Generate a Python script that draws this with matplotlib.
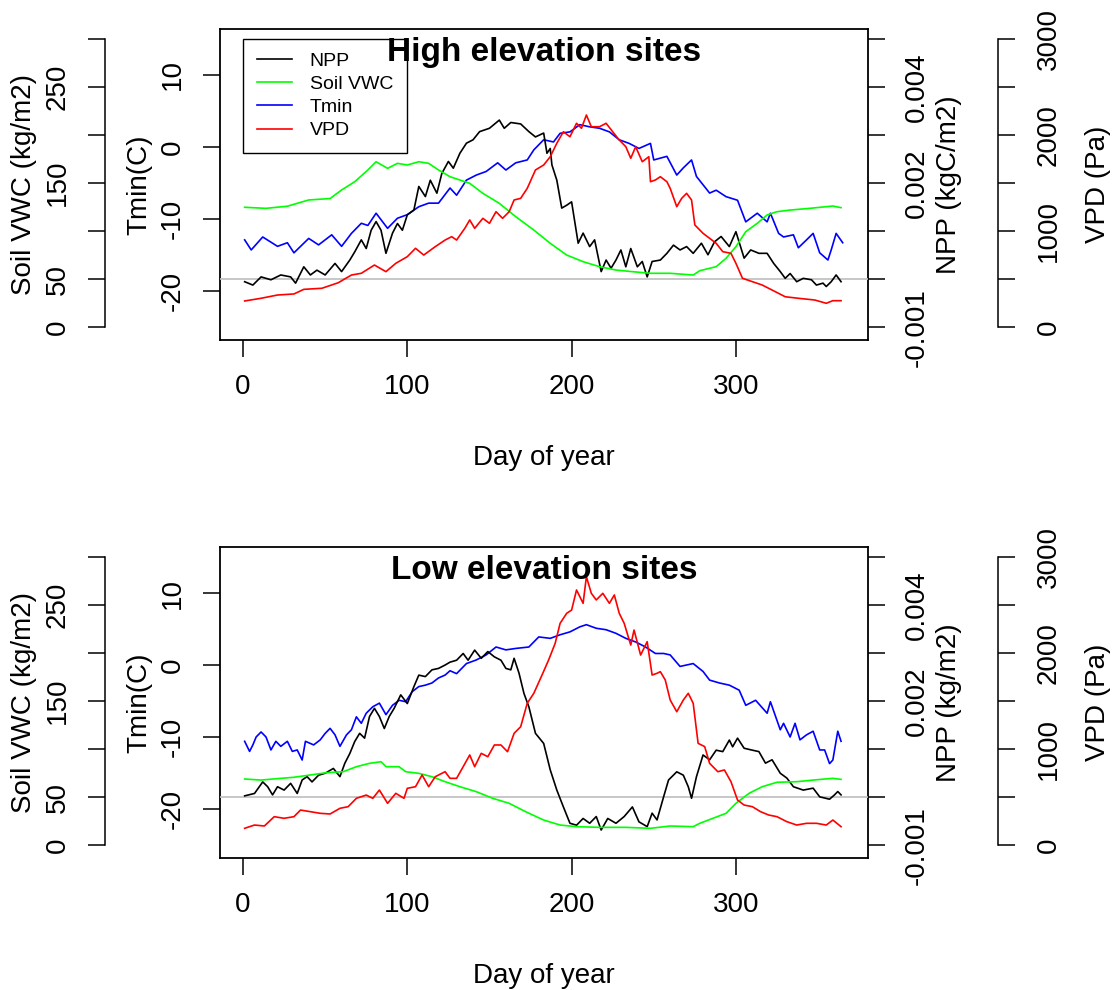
import matplotlib
matplotlib.use("Agg")
import matplotlib.pyplot as plt
from matplotlib.lines import Line2D

plt.rcParams["font.family"] = ["Liberation Sans", "DejaVu Sans"]

# ---- high elevation sites ----
hi_tmin_day = [1, 5, 12, 21, 27, 31, 40, 46, 54, 60, 66, 72, 76, 81, 88, 94, 100, 107, 113, 119,
               126, 130, 136, 142, 148, 155, 160, 166, 173, 177, 183, 189, 193, 199, 205, 211, 217,
               223, 229, 235, 241, 248, 250, 258, 264, 268, 273, 276, 284, 288, 294, 301, 306, 313,
               319, 321, 326, 329, 335, 338, 343, 347, 351, 356, 358, 361, 365]
hi_tmin = [-12.9, -14.3, -12.5, -13.8, -13.3, -14.7, -12.7, -13.6, -12.2, -13.8, -12.0, -10.6, -10.9,
           -9.2, -11.3, -9.9, -9.4, -8.3, -7.8, -7.8, -5.7, -6.7, -4.6, -3.9, -3.4, -2.2, -3.2, -2.2,
           -1.8, -0.4, 1.0, 0.7, 1.9, 2.1, 3.1, 2.8, 2.6, 2.1, 1.0, 0.5, -0.2, 0.5, -1.8, -1.3, -3.9,
           -2.9, -1.8, -4.1, -6.4, -6.0, -6.9, -7.4, -10.4, -9.2, -10.4, -9.2, -12.0, -12.5, -12.2,
           -14.0, -12.9, -12.0, -14.7, -15.7, -14.3, -12.0, -13.3]

hi_npp_day = [1, 6, 11, 17, 23, 29, 32, 37, 41, 45, 50, 56, 60, 65, 68, 72, 75, 78, 81, 84, 87, 91,
              94, 97, 100, 104, 107, 111, 114, 118, 121, 125, 128, 132, 136, 140, 144, 150, 156, 159,
              163, 169, 174, 178, 183, 185, 187, 188, 191, 194, 197, 200, 204, 207, 211, 214, 218,
              221, 224, 227, 230, 233, 236, 240, 243, 246, 249, 254, 258, 262, 266, 270, 274, 279,
              283, 287, 291, 296, 300, 305, 309, 314, 319, 323, 327, 330, 333, 337, 341, 346, 349,
              353, 355, 358, 361, 364]
hi_npp = [-0.00005, -0.00012, 0.00005, -0.00001, 0.00009, 0.00005, -0.00008, 0.00026, 0.00009,
          0.00019, 0.00009, 0.00033, 0.00016, 0.00040, 0.00057, 0.00082, 0.00064, 0.00102, 0.00120,
          0.00102, 0.00054, 0.00096, 0.00116, 0.00102, 0.00134, 0.00144, 0.00193, 0.00172, 0.00206,
          0.00179, 0.00220, 0.00245, 0.00231, 0.00262, 0.00283, 0.00290, 0.00307, 0.00314, 0.00331,
          0.00314, 0.00326, 0.00323, 0.00307, 0.00296, 0.00304, 0.00262, 0.00272, 0.00238, 0.00206,
          0.00148, 0.00154, 0.00161, 0.00075, 0.00096, 0.00068, 0.00082, 0.00016, 0.00040, 0.00023,
          0.00040, 0.00061, 0.00026, 0.00064, 0.00026, 0.00037, 0.00005, 0.00037, 0.00040, 0.00054,
          0.00071, 0.00061, 0.00068, 0.00054, 0.00075, 0.00051, 0.00078, 0.00089, 0.00068, 0.00099,
          0.00044, 0.00061, 0.00054, 0.00054, 0.00033, 0.00016, 0.00002, 0.00012, -0.00005, 0.00002,
          -0.00001, -0.00012, -0.00008, -0.00015, -0.00005, 0.00009, -0.00005]

hi_vwc_day = [1, 14, 27, 40, 53, 60, 68, 76, 81, 88, 94, 100, 107, 113, 119, 126, 138, 146, 156, 166,
              177, 187, 197, 207, 217, 227, 237, 248, 260, 274, 278, 288, 294, 300, 306, 313, 319,
              325, 333, 345, 359, 364]
hi_vwc = [124.9, 123.8, 126.0, 132.5, 134.0, 142.9, 151.5, 163.7, 172.3, 165.4, 170.6, 168.9, 172.3,
          170.6, 163.7, 156.7, 149.8, 139.4, 129.0, 115.1, 101.2, 87.4, 75.2, 68.3, 63.1, 59.6, 57.9,
          56.2, 56.2, 54.4, 58.9, 63.1, 71.8, 83.9, 99.5, 108.2, 116.9, 120.3, 122.0, 123.8, 126.2,
          124.5]

hi_vpd_day = [1, 11, 21, 31, 37, 48, 58, 66, 72, 80, 87, 93, 100, 105, 110, 117, 123, 127, 130, 135,
              138, 141, 146, 150, 154, 158, 162, 165, 169, 173, 178, 183, 187, 191, 195, 199, 203,
              206, 209, 212, 217, 221, 225, 229, 233, 236, 239, 243, 247, 248, 251, 254, 258, 260,
              264, 267, 270, 273, 275, 280, 284, 288, 292, 297, 300, 304, 310, 316, 322, 330, 338,
              348, 355, 359, 364]
hi_vpd = [274, 302, 336, 347, 395, 406, 464, 544, 562, 648, 579, 666, 735, 822, 752, 839, 908, 943,
          908, 1030, 1117, 1030, 1134, 1082, 1203, 1134, 1203, 1325, 1342, 1446, 1637, 1689, 1775,
          1915, 2035, 1983, 2123, 2071, 2209, 2087, 2087, 2123, 2035, 1949, 1879, 1759, 1879, 1723,
          1775, 1515, 1533, 1567, 1515, 1446, 1255, 1342, 1394, 1325, 1065, 978, 926, 874, 787, 770,
          666, 510, 475, 440, 388, 318, 302, 284, 250, 277, 277]

# ---- low elevation sites ----
lo_tmin_day = [1, 4, 6, 8, 11, 14, 17, 20, 23, 27, 30, 33, 36, 38, 43, 47, 50, 53, 56, 59, 63, 66, 69,
               72, 75, 79, 83, 87, 91, 95, 99, 103, 107, 111, 115, 119, 123, 126, 130, 136, 142, 148,
               154, 160, 166, 174, 180, 187, 193, 199, 205, 209, 215, 221, 227, 233, 239, 245, 251,
               256, 260, 266, 274, 280, 284, 290, 296, 302, 306, 312, 319, 321, 327, 329, 333, 336,
               339, 343, 347, 351, 354, 357, 359, 362, 364]
lo_tmin = [-10.6, -12.0, -11.1, -10.0, -9.3, -10.0, -11.8, -10.6, -11.3, -10.6, -12.0, -11.8, -13.2,
           -10.6, -11.1, -10.4, -9.5, -8.8, -9.7, -11.3, -9.7, -9.0, -7.2, -8.1, -6.7, -5.8, -5.3,
           -6.9, -5.6, -4.9, -5.1, -3.7, -3.0, -2.8, -2.5, -1.8, -1.4, -0.8, -1.2, 0.2, 0.7, 1.4, 2.5,
           2.1, 2.3, 2.5, 3.9, 3.7, 4.2, 4.6, 5.3, 5.6, 5.1, 4.9, 4.4, 3.7, 3.2, 2.5, 1.6, 1.6, 1.4,
           -0.2, 0.2, -0.9, -2.1, -2.5, -2.8, -3.5, -5.6, -4.9, -6.7, -5.1, -9.0, -8.1, -10.0, -8.1,
           -10.4, -9.7, -9.2, -11.8, -11.8, -13.7, -13.2, -9.2, -10.6]

lo_npp_day = [1, 7, 12, 15, 18, 21, 25, 29, 33, 36, 39, 42, 46, 50, 55, 59, 62, 65, 68, 71, 74, 77, 80,
              83, 86, 89, 92, 96, 100, 104, 107, 111, 115, 119, 123, 126, 130, 134, 137, 141, 145,
              149, 153, 157, 160, 163, 165, 168, 171, 174, 178, 183, 187, 191, 195, 199, 203, 207,
              211, 215, 218, 222, 227, 232, 237, 241, 246, 249, 252, 256, 259, 264, 268, 271, 273,
              276, 280, 284, 288, 292, 296, 298, 301, 305, 310, 314, 318, 322, 327, 331, 335, 341,
              347, 351, 357, 360, 362, 364]
lo_npp = [0.00003, 0.00008, 0.00032, 0.00022, 0.00005, 0.00022, 0.00015, 0.00029, 0.00008, 0.00036,
          0.00043, 0.00032, 0.00046, 0.00050, 0.00060, 0.00043, 0.00071, 0.00091, 0.00116, 0.00133,
          0.00123, 0.00168, 0.00185, 0.00168, 0.00143, 0.00168, 0.00185, 0.00213, 0.00195, 0.00230,
          0.00254, 0.00251, 0.00265, 0.00268, 0.00275, 0.00281, 0.00285, 0.00299, 0.00285, 0.00306,
          0.00289, 0.00303, 0.00292, 0.00285, 0.00268, 0.00265, 0.00289, 0.00258, 0.00216, 0.00188,
          0.00133, 0.00112, 0.00057, 0.00015, -0.00020, -0.00054, -0.00058, -0.00044, -0.00054,
          -0.00040, -0.00068, -0.00044, -0.00054, -0.00040, -0.00020, -0.00051, -0.00061, -0.00033,
          -0.00047, 0.00001, 0.00036, 0.00053, 0.00046, 0.00022, -0.00002, 0.00043, 0.00088, 0.00078,
          0.00098, 0.00095, 0.00119, 0.00105, 0.00123, 0.00102, 0.00098, 0.00095, 0.00071, 0.00078,
          0.00050, 0.00040, 0.00022, 0.00015, 0.00019, 0.00001, -0.00004, 0.00005, 0.00012, 0.00005]

lo_vwc_day = [1, 11, 21, 31, 41, 51, 61, 69, 77, 84, 87, 95, 99, 107, 115, 123, 132, 142, 152, 162,
              172, 183, 193, 203, 217, 233, 248, 260, 274, 278, 286, 294, 300, 308, 316, 325, 337,
              347, 359, 364]
lo_vwc = [69.0, 67.9, 69.4, 70.8, 73.2, 75.6, 76.6, 81.8, 85.3, 87.0, 81.8, 81.8, 76.6, 74.9, 71.4,
          66.2, 61.0, 55.8, 48.9, 43.7, 35.0, 26.3, 21.1, 19.4, 18.7, 18.7, 17.7, 20.1, 19.4, 22.9,
          28.1, 33.3, 43.7, 54.1, 61.0, 65.6, 66.2, 67.9, 69.7, 68.6]

lo_vpd_day = [1, 7, 13, 19, 25, 31, 35, 41, 47, 53, 59, 64, 69, 75, 79, 83, 88, 93, 98, 100, 105, 109,
              113, 117, 123, 126, 130, 134, 138, 141, 145, 149, 153, 157, 161, 165, 169, 173, 177,
              182, 186, 190, 193, 197, 200, 203, 207, 209, 212, 215, 219, 223, 226, 229, 232, 236,
              238, 242, 246, 249, 252, 254, 257, 260, 264, 268, 271, 274, 277, 281, 284, 289, 293,
              297, 301, 305, 310, 315, 320, 325, 331, 337, 343, 349, 355, 359, 364]
lo_vpd = [177, 211, 201, 298, 281, 298, 367, 350, 333, 326, 385, 402, 489, 523, 489, 575, 437, 541,
          489, 593, 610, 732, 610, 714, 766, 697, 697, 818, 940, 818, 957, 922, 1044, 1044, 974, 1165,
          1234, 1478, 1582, 1772, 1928, 2102, 2310, 2414, 2448, 2657, 2518, 2795, 2622, 2553, 2622,
          2518, 2605, 2414, 2310, 2084, 2240, 1980, 2119, 1772, 1790, 1807, 1720, 1512, 1390, 1512,
          1582, 1478, 1061, 1027, 853, 766, 784, 662, 471, 419, 402, 350, 315, 298, 246, 211, 229,
          229, 211, 263, 194]

# ---- axes furniture ----
day_ticks = [0, 100, 200, 300]
tmin_ticks = [-20, -10, 0, 10]
npp_ticks = [-0.001, 0.0, 0.001, 0.002, 0.003, 0.004, 0.005]
npp_ticklabels = ["-0.001", "", "", "0.002", "", "0.004", ""]
vwc_ticks = [0, 50, 100, 150, 200, 250, 300]
vwc_ticklabels = ["0", "50", "", "150", "", "250", ""]
vpd_ticks = [0, 500, 1000, 1500, 2000, 2500, 3000]
vpd_ticklabels = ["0", "", "1000", "", "2000", "", "3000"]
series_names = ["NPP", "Soil VWC", "Tmin", "VPD"]
series_colors = ["black", "#00FF00", "#0000FF", "#FF0000"]

FS = 20
TICK_LEN = 12
LW = 1.2


def _yaxis(ax, ticks, labels, side, pad):
    ax.set_yticks(ticks)
    ax.set_yticklabels(labels, rotation=90, va="center", fontsize=FS)
    ax.tick_params(axis="y", direction="out", length=TICK_LEN, width=1.1, pad=pad,
                   labelsize=FS, labelrotation=90,
                   left=(side == "left"), labelleft=(side == "left"),
                   right=(side == "right"), labelright=(side == "right"))


def _ylabel(ax, text, side, x):
    ax.yaxis.set_label_position(side)
    ax.set_ylabel(text, fontsize=FS, va="center", ha="center", rotation=90)
    ax.yaxis.set_label_coords(x, 0.5)


def draw_panel(fig, rect, title, npp_label, data, legend=False):
    tmin_d, tmin, npp_d, npp, vwc_d, vwc, vpd_d, vpd = data

    ax = fig.add_axes(rect)          # Tmin, owns the box
    ax_n = ax.twinx()                # NPP on the box's right edge
    ax_w = ax.twinx()                # soil VWC, detached left
    ax_p = ax.twinx()                # VPD, detached right

    ax.plot(tmin_d, tmin, color=series_colors[2], lw=LW)
    ax_n.axhline(0, color="#BEBEBE", lw=1.2)
    ax_n.plot(npp_d, npp, color=series_colors[0], lw=LW)
    ax_w.plot(vwc_d, vwc, color=series_colors[1], lw=LW)
    ax_p.plot(vpd_d, vpd, color=series_colors[3], lw=LW)

    ax.set_xlim(-14.0, 380.4)
    ax.set_ylim(-26.81, 16.39)
    ax_n.set_ylim(-0.001262, 0.005204)
    ax_w.set_ylim(-13.2, 310.4)
    ax_p.set_ylim(-132, 3104)

    for s in ax.spines.values():
        s.set_linewidth(1.3)
    for a in (ax_n, ax_w, ax_p):
        for s in a.spines.values():
            s.set_visible(False)

    # detached spines first: set_position resets the ticks
    ax_w.spines["left"].set_visible(True)
    ax_w.spines["left"].set_position(("outward", 82.8))
    ax_w.spines["left"].set_bounds(0, 300)
    ax_w.spines["left"].set_linewidth(1.1)
    ax_p.spines["right"].set_visible(True)
    ax_p.spines["right"].set_position(("outward", 93.6))
    ax_p.spines["right"].set_bounds(0, 3000)
    ax_p.spines["right"].set_linewidth(1.1)

    ax.set_xticks(day_ticks)
    ax.tick_params(axis="x", direction="out", length=TICK_LEN, width=1.1, pad=12.5,
                   labelsize=FS)
    _yaxis(ax, tmin_ticks, [str(t) for t in tmin_ticks], "left", 12.5)
    _yaxis(ax_n, npp_ticks, npp_ticklabels, "right", 13.5)
    _yaxis(ax_w, vwc_ticks, vwc_ticklabels, "left", 12.5)
    _yaxis(ax_p, vpd_ticks, vpd_ticklabels, "right", 15)

    ax.set_xlabel("Day of year", fontsize=FS, va="center")
    ax.xaxis.set_label_coords(0.5, -0.378)
    _ylabel(ax, "Tmin(C)", "left", -0.125)
    _ylabel(ax_w, "Soil VWC (kg/m2)", "left", -0.303)
    _ylabel(ax_n, npp_label, "right", 1.125)
    _ylabel(ax_p, "VPD (Pa)", "right", 1.355)

    ax_p.text(0.5, 0.897, title, transform=ax.transAxes, ha="center", va="baseline",
              fontsize=24, fontweight="bold", zorder=5)

    if legend:
        handles = [Line2D([], [], color=c, lw=LW) for c in series_colors]
        leg = ax.legend(handles, series_names, loc="upper left",
                        bbox_to_anchor=(0.0355, 0.968), borderaxespad=0, fontsize=14,
                        fancybox=False, framealpha=1, edgecolor="black",
                        handlelength=1.8, handletextpad=0.93, labelspacing=0.28,
                        borderpad=0.7)
        leg.get_frame().set_linewidth(1.0)
    return ax


fig = plt.figure(figsize=(11.15, 9.9), dpi=100)
draw_panel(fig, [0.19731, 0.65657, 0.58117, 0.31414], "High elevation sites",
           "NPP (kgC/m2)",
           (hi_tmin_day, hi_tmin, hi_npp_day, hi_npp, hi_vwc_day, hi_vwc, hi_vpd_day, hi_vpd),
           legend=True)
draw_panel(fig, [0.19731, 0.13333, 0.58117, 0.31414], "Low elevation sites",
           "NPP (kg/m2)",
           (lo_tmin_day, lo_tmin, lo_npp_day, lo_npp, lo_vwc_day, lo_vwc, lo_vpd_day, lo_vpd))
fig.savefig("out.png", dpi=100)
